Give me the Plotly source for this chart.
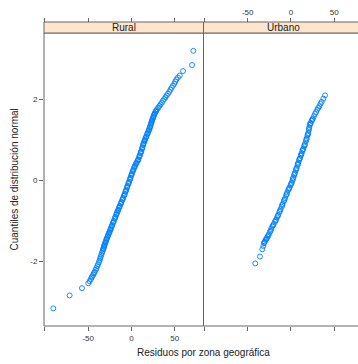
import plotly.graph_objects as go

# ---- data ----
panels = ["Rural", "Urbano"]

rural_resid = [-90.3, -71.4, -57.2, -49.9, -48.3, -47.1, -46.0, -45.3, -44.2, -43.3, -42.5, -41.3,
               -40.6, -39.5, -38.6, -37.5, -36.9, -36.2, -35.6, -34.8, -34.1, -33.5, -32.9, -32.2,
               -31.7, -31.0, -30.4, -29.8, -29.1, -28.4, -27.6, -26.9, -26.1, -25.3, -24.6, -23.8,
               -23.0, -22.2, -21.3, -20.4, -19.5, -18.6, -17.6, -16.8, -16.0, -15.2, -14.4, -13.5,
               -12.5, -11.6, -10.6, -9.7, -8.7, -7.8, -7.0, -6.1, -5.3, -4.5, -3.6, -2.8, -1.9,
               -1.1, -0.3, 0.5, 1.3, 2.2, 3.1, 4.0, 4.9, 5.9, 7.0, 7.9, 8.8, 9.6, 10.5, 11.2, 12.0,
               12.7, 13.4, 14.0, 14.8, 15.6, 16.4, 17.3, 18.1, 18.9, 19.7, 20.4, 21.1, 21.7, 22.3,
               22.9, 23.4, 24.1, 24.8, 25.4, 26.1, 26.9, 27.8, 28.7, 29.6, 31.0, 32.3, 33.6, 35.0,
               36.4, 37.8, 39.2, 40.6, 42.1, 43.6, 45.0, 46.4, 47.9, 49.4, 50.6, 51.7, 53.6, 55.7,
               59.5, 69.9, 71.4,
               -32.5, -31.4, -30.0, -28.8, -27.3, -25.7, -24.2, -22.6, -20.9, -19.0, -17.2, -15.6,
               -13.9, -12.0, -10.1, -8.2, -6.5, -4.9, -3.2, -1.5, 0.1, 1.8, 3.5, 5.4, 7.4, 9.2,
               10.8, 12.3, 13.7, 15.2, 16.8, 18.5, 20.0, 21.4, 22.6, 23.7, 25.1, 26.5, 28.2]
rural_q = [-3.17, -2.85, -2.67, -2.55, -2.50, -2.45, -2.41, -2.38, -2.34, -2.30, -2.27, -2.22,
           -2.18, -2.13, -2.08, -2.03, -1.99, -1.94, -1.90, -1.85, -1.80, -1.76, -1.72, -1.68,
           -1.64, -1.60, -1.56, -1.52, -1.48, -1.44, -1.40, -1.36, -1.32, -1.28, -1.24, -1.19,
           -1.15, -1.11, -1.06, -1.01, -0.96, -0.91, -0.86, -0.81, -0.77, -0.73, -0.69, -0.64,
           -0.59, -0.54, -0.49, -0.44, -0.39, -0.34, -0.29, -0.24, -0.19, -0.14, -0.09, -0.04, 0.01,
           0.06, 0.11, 0.16, 0.21, 0.26, 0.30, 0.35, 0.39, 0.43, 0.47, 0.51, 0.56, 0.61, 0.66, 0.71, 0.76,
           0.81, 0.86, 0.91, 0.95, 1.00, 1.04, 1.08, 1.13, 1.17, 1.21, 1.25, 1.29, 1.33, 1.37,
           1.41, 1.45, 1.49, 1.53, 1.57, 1.61, 1.65, 1.69, 1.72, 1.75, 1.79, 1.83, 1.87, 1.91,
           1.96, 2.00, 2.04, 2.09, 2.13, 2.18, 2.23, 2.28, 2.33, 2.38, 2.43, 2.48, 2.53, 2.58,
           2.69, 2.84, 3.19,
           -1.70, -1.62, -1.54, -1.46, -1.38, -1.30, -1.22, -1.13, -1.04, -0.94, -0.84, -0.75,
           -0.66, -0.57, -0.47, -0.37, -0.27, -0.17, -0.07, 0.03, 0.13, 0.23, 0.33, 0.41, 0.49, 0.59,
           0.69, 0.79, 0.89, 0.98, 1.06, 1.15, 1.23, 1.31, 1.39, 1.47, 1.55, 1.63, 1.70]

urbano_resid = [-41.2, -35.8, -33.1, -31.9, -31.2, -30.2, -29.2, -28.0, -26.9, -25.6, -24.2, -22.9,
                -21.6, -20.0, -18.5, -17.2, -16.0, -14.7, -13.4, -12.0, -10.7, -9.5, -8.2, -6.9,
                -5.6, -4.4, -3.1, -1.8, -0.5, 0.8, 1.8, 2.8, 3.7, 4.6, 5.6, 6.6, 7.6, 8.5, 9.4,
                10.4, 11.3, 12.3, 13.2, 14.2, 15.2, 16.2, 17.3, 18.2, 19.1, 20.0, 20.6, 21.1, 21.9,
                22.7, 23.9, 25.1, 26.4, 27.7, 29.0, 30.4, 31.5, 32.7, 34.1, 35.5, 37.4, 39.3,
                -30.7, -28.6, -26.2, -23.5, -20.8, -17.8, -15.3, -12.7, -10.1, -7.5, -5.0, -2.4,
                0.1, 2.3, 4.1, 6.1, 8.0, 9.9, 11.8, 13.7, 15.7, 17.7, 19.5, 20.8, 22.3, 24.5]
urbano_q = [-2.06, -1.89, -1.71, -1.63, -1.56, -1.52, -1.48, -1.44, -1.40, -1.34, -1.28, -1.21,
            -1.15, -1.09, -1.03, -0.98, -0.92, -0.86, -0.79, -0.72, -0.66, -0.59, -0.52, -0.45,
            -0.38, -0.31, -0.25, -0.19, -0.13, -0.07, -0.01, 0.06, 0.12, 0.18, 0.24, 0.30, 0.37,
            0.43, 0.49, 0.54, 0.60, 0.66, 0.72, 0.77, 0.83, 0.89, 0.96, 1.03, 1.10, 1.16, 1.23,
            1.30, 1.36, 1.41, 1.46, 1.51, 1.57, 1.63, 1.68, 1.74, 1.78, 1.82, 1.88, 1.93, 2.01, 2.09,
            -1.54, -1.46, -1.37, -1.25, -1.12, -1.00, -0.89, -0.76, -0.62, -0.49, -0.35, -0.22,
            -0.10, 0.03, 0.15, 0.27, 0.40, 0.52, 0.63, 0.75, 0.86, 1.00, 1.13, 1.27, 1.39, 1.49]

x_tickvals = [-100, -50, 0, 50]
x_ticktext = ["", "-50", "0", "50"]
y_tickvals = [-2, 0, 2]
y_ticktext = ["-2", "0", "2"]

xlab = "Residuos por zona geográfica"
ylab = "Cuantiles de distribución normal"

# ---- layout geometry ----
W, H = 358, 364
def px(x):
    return x / W
def py(y):
    return 1 - y / H

x_left, x_mid, x_right = 44, 203.5, 363
y_strip_top, y_top, y_bot = 22, 33, 326
d1 = [px(x_left), px(x_mid)]
d2 = [px(x_mid), 1.0]
ydom = [py(y_bot), py(y_top)]

xrange1 = [-101.0, 83.1]
xrange2 = [-101.0, 77.4]
yrange = [-3.605, 3.63]

COL = "#0080ff"
LINE = "#666666"
FONT = "Liberation Sans, Arial, sans-serif"

fig = go.Figure()
fig.add_trace(go.Scatter(x=rural_resid, y=rural_q, mode="markers", xaxis="x", yaxis="y",
                         marker=dict(symbol="circle-open", size=5, color=COL, line=dict(width=0.9)),
                         showlegend=False, hoverinfo="skip"))
fig.add_trace(go.Scatter(x=urbano_resid, y=urbano_q, mode="markers", xaxis="x2", yaxis="y2",
                         marker=dict(symbol="circle-open", size=5, color=COL, line=dict(width=0.9)),
                         showlegend=False, hoverinfo="skip"))

tickfont = dict(family=FONT, size=8, color="#333333")
common_x = dict(ticks="outside", ticklen=4, tickwidth=1, tickcolor=LINE, showgrid=False,
                zeroline=False, showline=False, tickvals=x_tickvals, ticktext=x_ticktext,
                tickfont=tickfont, fixedrange=True)

fig.update_layout(
    width=W, height=H, margin=dict(l=0, r=0, t=0, b=0),
    paper_bgcolor="white", plot_bgcolor="white",
    xaxis=dict(domain=d1, range=xrange1, anchor="y", **common_x),
    xaxis2=dict(domain=d2, range=xrange2, anchor="y2", showticklabels=False, **common_x),
    xaxis3=dict(overlaying="x", range=xrange1, side="top", anchor="free", position=py(y_strip_top),
                showticklabels=False, **common_x),
    xaxis4=dict(overlaying="x2", range=xrange2, side="top", anchor="free", position=py(y_strip_top),
                **common_x),
    yaxis=dict(domain=ydom, range=yrange, anchor="x", ticks="outside", ticklen=4, tickwidth=1,
               tickcolor=LINE, tickvals=y_tickvals, ticktext=y_ticktext, tickfont=tickfont,
               showgrid=False, zeroline=False, showline=False, fixedrange=True),
    yaxis2=dict(domain=ydom, range=yrange, anchor="x2", showticklabels=False, ticks="",
                showgrid=False, zeroline=False, showline=False, fixedrange=True),
)
# empty traces so the overlay (top) axes render
fig.add_trace(go.Scatter(x=[], y=[], xaxis="x3", yaxis="y", showlegend=False))
fig.add_trace(go.Scatter(x=[], y=[], xaxis="x4", yaxis="y2", showlegend=False))

shapes = []
# strips
shapes.append(dict(type="rect", xref="paper", yref="paper", x0=px(x_left), x1=px(x_mid),
                   y0=py(y_top), y1=py(y_strip_top), fillcolor="#ffe5cc", line=dict(color=LINE, width=1)))
shapes.append(dict(type="rect", xref="paper", yref="paper", x0=px(x_mid), x1=px(x_right),
                   y0=py(y_top), y1=py(y_strip_top), fillcolor="#ffe5cc", line=dict(color=LINE, width=1)))
# panel boxes
shapes.append(dict(type="rect", xref="paper", yref="paper", x0=px(x_left), x1=px(x_mid),
                   y0=py(y_bot), y1=py(y_top), line=dict(color=LINE, width=1), layer="below"))
shapes.append(dict(type="rect", xref="paper", yref="paper", x0=px(x_mid), x1=px(x_right),
                   y0=py(y_bot), y1=py(y_top), line=dict(color=LINE, width=1), layer="below"))
fig.update_layout(shapes=shapes)

ann = []
ann.append(dict(text=panels[0], xref="paper", yref="paper", x=(d1[0] + d1[1]) / 2,
                y=py((y_strip_top + y_top) / 2), showarrow=False, xanchor="center", yanchor="middle",
                font=dict(family=FONT, size=10, color="#222222")))
ann.append(dict(text=panels[1], xref="paper", yref="paper", x=px((x_mid + x_right) / 2),
                y=py((y_strip_top + y_top) / 2), showarrow=False, xanchor="center", yanchor="middle",
                font=dict(family=FONT, size=10, color="#222222")))
ann.append(dict(text=xlab, xref="paper", yref="paper", x=px((x_left + x_right) / 2), y=py(352),
                showarrow=False, xanchor="center", yanchor="middle",
                font=dict(family=FONT, size=10, color="#222222")))
ann.append(dict(text=ylab, xref="paper", yref="paper", x=px(14), y=py((y_top + y_bot) / 2),
                showarrow=False, xanchor="center", yanchor="middle", textangle=-90,
                font=dict(family=FONT, size=10, color="#222222")))
fig.update_layout(annotations=ann)

fig.write_html("out.html")
